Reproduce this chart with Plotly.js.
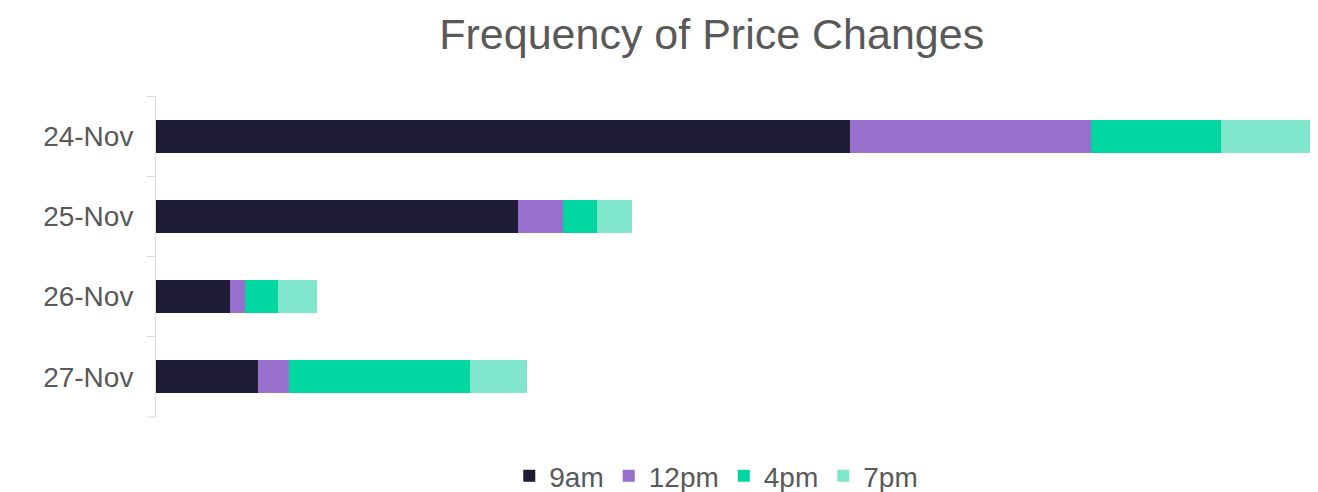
<!DOCTYPE html>
<html>
<head>
<meta charset="utf-8">
<script src="https://cdn.plot.ly/plotly-3.0.1.min.js"></script>
<style>
  html, body { margin: 0; padding: 0; background: #ffffff; }
  #chart { width: 1318px; height: 492px; }
</style>
</head>
<body>
<div id="chart"></div>
<script>
// Days shown on the vertical axis, top to bottom
const days = ['24-Nov', '25-Nov', '26-Nov', '27-Nov'];

// Number of price changes per time slot
const am9  = [69.4, 36.2, 7.4, 10.2];
const pm12 = [24.1, 4.5, 1.5, 3.1];
const pm4  = [13.0, 3.4, 3.3, 18.1];
const pm7  = [8.9, 3.5, 3.9, 5.7];

const seriesNames = ['9am', '12pm', '4pm', '7pm'];
const seriesValues = [am9, pm12, pm4, pm7];
const seriesColors = ['#1e1b34', '#9670cc', '#00d6a0', '#80e6cb'];

const traces = seriesNames.map((name, i) => ({
  type: 'bar',
  orientation: 'h',
  name: name,
  y: days,
  x: seriesValues[i],
  marker: { color: seriesColors[i], line: { width: 0 } },
  hoverinfo: 'x+name'
}));

const plotWidth = 1318 - 156 - 2;

const layout = {
  width: 1318,
  height: 492,
  paper_bgcolor: '#ffffff',
  plot_bgcolor: '#ffffff',
  font: { family: '"Liberation Sans", Arial, sans-serif', color: '#595959' },
  title: {
    text: 'Frequency of Price Changes',
    font: { size: 43, color: '#595959' },
    x: 0.54,
    xanchor: 'center',
    y: 0.93,
    yanchor: 'middle'
  },
  barmode: 'stack',
  bargap: 0.59,
  margin: { l: 156, r: 2, t: 96, b: 75, autoexpand: false },
  xaxis: {
    range: [0, 116],
    visible: false,
    showgrid: false,
    zeroline: false
  },
  yaxis: {
    type: 'category',
    categoryorder: 'array',
    categoryarray: days,
    autorange: 'reversed',
    showline: true,
    linecolor: '#d9d9d9',
    linewidth: 1,
    ticks: 'outside',
    tickson: 'boundaries',
    ticklen: 8,
    tickcolor: '#d9d9d9',
    tickwidth: 1,
    ticklabelstandoff: 16,
    tickfont: { size: 28, color: '#595959' },
    showgrid: false,
    zeroline: false
  },
  // closing tick at the lower end of the category axis
  shapes: [{
    type: 'line',
    xref: 'paper', yref: 'paper',
    x0: -8 / plotWidth, x1: 0,
    y0: 0, y1: 0,
    line: { color: '#d9d9d9', width: 1 }
  }],
  legend: {
    orientation: 'h',
    xref: 'paper',
    x: 0.483,
    xanchor: 'center',
    yref: 'paper',
    y: -0.184,
    yanchor: 'middle',
    font: { size: 28, color: '#595959' },
    itemwidth: 30,
    traceorder: 'normal'
  },
  showlegend: true
};

Plotly.newPlot('chart', traces, layout, { displayModeBar: false, staticPlot: true });
</script>
</body>
</html>
